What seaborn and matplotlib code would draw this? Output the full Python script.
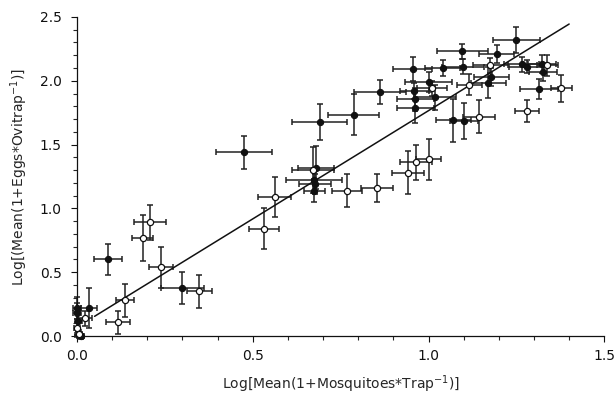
"""Eggs per ovitrap vs mosquitoes per trap, log scale means with error bars."""
import numpy as np
import pandas as pd
import matplotlib
matplotlib.use('Agg')
import matplotlib.pyplot as plt
from matplotlib.ticker import MultipleLocator
import seaborn as sns

# ----------------------------------------------------------------------------
# data
# ----------------------------------------------------------------------------
# filled circles
filled_x = [0.0, 0.0, 0.003, 0.005, 0.01, 0.034, 0.087, 0.30, 0.475, 0.69,
            0.68, 0.675, 0.677, 0.675, 0.787, 0.862, 0.955, 1.04, 1.097, 1.096,
            1.00, 0.962, 1.018, 0.962, 0.96, 1.194, 1.25, 1.265, 1.279, 1.322,
            1.325, 1.178, 1.17, 1.314, 1.071, 1.10]
filled_y = [0.22, 0.18, 0.12, 0.01, 0.0, 0.22, 0.60, 0.38, 1.44, 1.675,
            1.32, 1.22, 1.19, 1.14, 1.735, 1.91, 2.09, 2.10, 2.11, 2.23,
            1.99, 1.855, 1.87, 1.79, 1.92, 2.21, 2.32, 2.13, 2.11, 2.13,
            2.07, 2.03, 1.985, 1.935, 1.69, 1.685]
filled_xerr = [0.01, 0.01, 0.01, 0.01, 0.01, 0.022, 0.04, 0.06, 0.08, 0.077,
               0.05, 0.08, 0.045, 0.03, 0.073, 0.075, 0.055, 0.05, 0.06, 0.072,
               0.068, 0.053, 0.06, 0.053, 0.04, 0.05, 0.067, 0.05, 0.05, 0.04,
               0.04, 0.05, 0.05, 0.053, 0.05, 0.04]
filled_yerr = [0.09, 0.08, 0.08, 0.02, 0.02, 0.16, 0.125, 0.125, 0.13, 0.14,
               0.17, 0.10, 0.08, 0.09, 0.16, 0.095, 0.095, 0.06, 0.06, 0.06,
               0.08, 0.09, 0.10, 0.12, 0.06, 0.07, 0.10, 0.06, 0.05, 0.07,
               0.07, 0.07, 0.12, 0.08, 0.17, 0.14]

# open circles
open_x = [0.0, 0.005, 0.023, 0.116, 0.137, 0.187, 0.208, 0.239, 0.348, 0.532,
          0.562, 0.672, 0.769, 0.854, 0.942, 0.964, 1.0, 1.01, 1.116, 1.176,
          1.338, 1.378, 1.281, 1.143]
open_y = [0.06, 0.02, 0.14, 0.11, 0.28, 0.77, 0.89, 0.54, 0.35, 0.84,
          1.09, 1.30, 1.14, 1.16, 1.28, 1.36, 1.385, 1.94, 1.97, 2.12,
          2.12, 1.94, 1.763, 1.72]
open_xerr = [0.008, 0.008, 0.02, 0.034, 0.025, 0.03, 0.045, 0.034, 0.035, 0.043,
             0.048, 0.06, 0.043, 0.045, 0.045, 0.045, 0.036, 0.043, 0.036, 0.05,
             0.03, 0.03, 0.034, 0.046]
open_yerr = [0.05, 0.03, 0.06, 0.09, 0.13, 0.18, 0.14, 0.16, 0.13, 0.16,
             0.16, 0.18, 0.13, 0.11, 0.17, 0.14, 0.16, 0.06, 0.08, 0.06,
             0.08, 0.105, 0.086, 0.13]

# fitted line
fit_x = [0.05, 1.40]
fit_slope = 1.696
fit_intercept = 0.070

xlabel = 'Log[Mean(1+Mosquitoes*Trap$^{-1}$)]'
ylabel = 'Log[(Mean(1+Eggs*Ovitrap$^{-1}$)]'

# ----------------------------------------------------------------------------
sns.set_style('ticks')
plt.rcParams['font.family'] = ['DejaVu Sans']
plt.rcParams['mathtext.fontset'] = 'dejavusans'

df_filled = pd.DataFrame({'x': filled_x, 'y': filled_y})
df_open = pd.DataFrame({'x': open_x, 'y': open_y})
df_fit = pd.DataFrame({'x': fit_x,
                       'y': [fit_intercept + fit_slope * v for v in fit_x]})

fig = plt.figure(figsize=(6.16, 3.94), dpi=100)
ax = fig.add_axes([0.125, 0.147, 0.856, 0.81])

ebkw = dict(fmt='none', ecolor='#222222', elinewidth=1.1, capsize=2.2,
            capthick=1.1, clip_on=False)
ax.errorbar(filled_x, filled_y, xerr=filled_xerr, yerr=filled_yerr, zorder=2, **ebkw)
ax.errorbar(open_x, open_y, xerr=open_xerr, yerr=open_yerr, zorder=2, **ebkw)

sns.lineplot(data=df_fit, x='x', y='y', color='#111111', lw=1.1, ax=ax, zorder=3)

sns.scatterplot(data=df_filled, x='x', y='y', ax=ax, s=20, color='#111111',
                edgecolor='#111111', linewidth=0.8, zorder=4, clip_on=False)
sns.scatterplot(data=df_open, x='x', y='y', ax=ax, s=20, color='white',
                edgecolor='#111111', linewidth=0.9, zorder=5, clip_on=False)

ax.set_xlim(0, 1.5)
ax.set_ylim(0, 2.5)
ax.xaxis.set_major_locator(MultipleLocator(0.5))
ax.xaxis.set_minor_locator(MultipleLocator(0.1))
ax.yaxis.set_major_locator(MultipleLocator(0.5))
ax.yaxis.set_minor_locator(MultipleLocator(0.1))
ax.xaxis.set_major_formatter(matplotlib.ticker.FormatStrFormatter('%.1f'))
ax.yaxis.set_major_formatter(matplotlib.ticker.FormatStrFormatter('%.1f'))
ax.tick_params(which='major', length=4, width=0.8, labelsize=10, colors='#111111')
ax.tick_params(which='minor', length=3, width=0.8)
ax.tick_params(axis='y', which='major', pad=7)
ax.tick_params(axis='x', which='major', pad=5)
for s in ['left', 'bottom']:
    ax.spines[s].set_linewidth(0.9)
    ax.spines[s].set_color('#111111')
sns.despine(ax=ax)

ax.set_xlabel(xlabel, fontsize=10, labelpad=8)
ax.set_ylabel(ylabel, fontsize=10, labelpad=7)

fig.savefig('out.png', dpi=100)
